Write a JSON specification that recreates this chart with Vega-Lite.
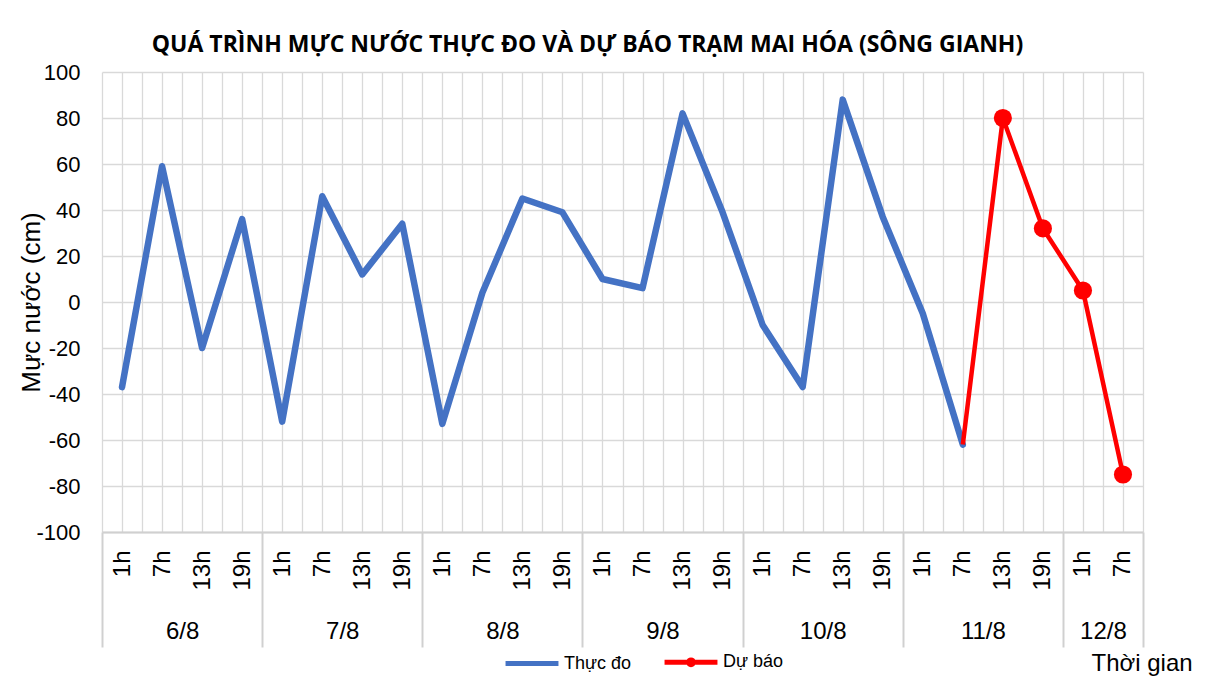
{
  "$schema": "https://vega.github.io/schema/vega-lite/v6.json",
  "width": 1041,
  "height": 460,
  "autosize": {"type": "none"},
  "padding": {"left": 102, "top": 72, "right": 71, "bottom": 152},
  "background": "white",
  "config": {
    "font": "Liberation Sans",
    "view": {"stroke": null},
    "axis": {"labelColor": "#000000", "titleColor": "#000000", "labelFont": "Liberation Sans", "titleFont": "Liberation Sans", "titleFontWeight": "normal"}
  },
  "title": {
    "text": "QUÁ TRÌNH MỰC NƯỚC THỰC ĐO VÀ DỰ BÁO TRẠM MAI HÓA (SÔNG GIANH)",
    "font": "Open Sans",
    "fontSize": 23,
    "fontWeight": "bold",
    "color": "#000000",
    "anchor": "middle",
    "frame": "group",
    "dx": -35,
    "dy": 33,
    "offset": 14,
    "baseline": "bottom"
  },
  "data": {
    "values": [
      {"i": 0.5, "day": "6/8", "hour": "1h", "value": -37, "series": "Thực đo"},
      {"i": 1.5, "day": "6/8", "hour": "7h", "value": 59, "series": "Thực đo"},
      {"i": 2.5, "day": "6/8", "hour": "13h", "value": -20, "series": "Thực đo"},
      {"i": 3.5, "day": "6/8", "hour": "19h", "value": 36, "series": "Thực đo"},
      {"i": 4.5, "day": "7/8", "hour": "1h", "value": -52, "series": "Thực đo"},
      {"i": 5.5, "day": "7/8", "hour": "7h", "value": 46, "series": "Thực đo"},
      {"i": 6.5, "day": "7/8", "hour": "13h", "value": 12, "series": "Thực đo"},
      {"i": 7.5, "day": "7/8", "hour": "19h", "value": 34, "series": "Thực đo"},
      {"i": 8.5, "day": "8/8", "hour": "1h", "value": -53, "series": "Thực đo"},
      {"i": 9.5, "day": "8/8", "hour": "7h", "value": 4, "series": "Thực đo"},
      {"i": 10.5, "day": "8/8", "hour": "13h", "value": 45, "series": "Thực đo"},
      {"i": 11.5, "day": "8/8", "hour": "19h", "value": 39, "series": "Thực đo"},
      {"i": 12.5, "day": "9/8", "hour": "1h", "value": 10, "series": "Thực đo"},
      {"i": 13.5, "day": "9/8", "hour": "7h", "value": 6, "series": "Thực đo"},
      {"i": 14.5, "day": "9/8", "hour": "13h", "value": 82, "series": "Thực đo"},
      {"i": 15.5, "day": "9/8", "hour": "19h", "value": 39, "series": "Thực đo"},
      {"i": 16.5, "day": "10/8", "hour": "1h", "value": -10, "series": "Thực đo"},
      {"i": 17.5, "day": "10/8", "hour": "7h", "value": -37, "series": "Thực đo"},
      {"i": 18.5, "day": "10/8", "hour": "13h", "value": 88, "series": "Thực đo"},
      {"i": 19.5, "day": "10/8", "hour": "19h", "value": 37, "series": "Thực đo"},
      {"i": 20.5, "day": "11/8", "hour": "1h", "value": -5, "series": "Thực đo"},
      {"i": 21.5, "day": "11/8", "hour": "7h", "value": -62, "series": "Thực đo"},
      {"i": 21.5, "day": "11/8", "hour": "7h", "value": -62, "series": "Dự báo"},
      {"i": 22.5, "day": "11/8", "hour": "13h", "value": 80, "series": "Dự báo"},
      {"i": 23.5, "day": "11/8", "hour": "19h", "value": 32, "series": "Dự báo"},
      {"i": 24.5, "day": "12/8", "hour": "1h", "value": 5, "series": "Dự báo"},
      {"i": 25.5, "day": "12/8", "hour": "7h", "value": -75, "series": "Dự báo"}
    ]
  },
  "encoding": {
    "y": {
      "field": "value",
      "type": "quantitative",
      "scale": {"domain": [-100, 100], "nice": false, "zero": false},
      "axis": {
        "values": [-100, -80, -60, -40, -20, 0, 20, 40, 60, 80, 100],
        "labelExpr": "replace(datum.label, '−', '-')",
        "grid": true,
        "gridColor": "#d9d9d9",
        "gridWidth": 1.3,
        "ticks": false,
        "tickSize": 0,
        "domain": false,
        "labelFontSize": 22,
        "labelPadding": 22,
        "title": "Mực nước (cm)",
        "titleFontSize": 26,
        "titleX": -71,
        "titleY": 230,
        "titleBaseline": "middle",
        "titleAlign": "center",
        "titleAngle": -90
      }
    },
    "color": {
      "field": "series",
      "type": "nominal",
      "scale": {"domain": ["Thực đo", "Dự báo"], "range": ["#4472C4", "#FF0000"]},
      "legend": {
        "title": null,
        "orient": "none",
        "direction": "horizontal",
        "legendX": 401,
        "legendY": 561,
        "symbolType": "stroke",
        "symbolStrokeWidth": 5,
        "symbolSize": 2800,
        "labelFontSize": 18,
        "labelColor": "#000000",
        "labelFont": "Liberation Sans",
        "columnPadding": 22,
        "labelOffset": 3,
        "symbolStrokeColor": {"expr": "null"},
        "encode": {
          "symbols": {
            "update": {
              "shape": {"signal": "datum.value == 'Dự báo' ? 'M-1,0L1,0M0.09,0A0.09,0.09 0 1,1 -0.09,0A0.09,0.09 0 1,1 0.09,0' : 'stroke'"}
            }
          }
        }
      }
    }
  },
  "layer": [
    {
      "transform": [{"filter": "datum.series == 'Thực đo'"}],
      "mark": {"type": "line", "strokeWidth": 6.5, "strokeJoin": "round", "strokeCap": "round"},
      "encoding": {
        "x": {
          "field": "i",
          "type": "quantitative",
          "scale": {"domain": [0, 26], "nice": false, "zero": false},
          "axis": {
            "orient": "bottom",
            "values": [0, 0.5, 1, 1.5, 2, 2.5, 3, 3.5, 4, 4.5, 5, 5.5, 6, 6.5, 7, 7.5, 8, 8.5, 9, 9.5, 10, 10.5, 11, 11.5, 12, 12.5, 13, 13.5, 14, 14.5, 15, 15.5, 16, 16.5, 17, 17.5, 18, 18.5, 19, 19.5, 20, 20.5, 21, 21.5, 22, 22.5, 23, 23.5, 24, 24.5, 25, 25.5, 26],
            "labelExpr": "floor(datum.value) == datum.value ? '' : ['1h', '7h', '13h', '19h'][floor(datum.value) % 4]",
            "grid": true,
            "gridColor": "#d9d9d9",
            "gridWidth": 1.3,
            "ticks": false,
            "tickSize": 0,
            "domain": true,
            "domainColor": "#d0d0d0",
            "domainWidth": 2,
            "labelAngle": -90,
            "labelAlign": "right",
            "labelBaseline": "middle",
            "labelPadding": 18,
            "labelFontSize": 24,
            "labelOverlap": false,
            "labelFlush": false,
            "labelBound": false,
            "title": null
          }
        }
      }
    },
    {
      "transform": [{"filter": "datum.series == 'Dự báo'"}],
      "mark": {"type": "line", "strokeWidth": 4.5},
      "encoding": {
        "x": {
          "field": "i",
          "type": "quantitative",
          "scale": {"domain": [0, 26], "nice": false, "zero": false},
          "axis": {
            "orient": "bottom",
            "values": [2, 6, 10, 14, 18, 22, 25],
            "labelExpr": "['6/8', '7/8', '8/8', '9/8', '10/8', '11/8', '12/8'][floor(datum.value / 4)]",
            "grid": false,
            "ticks": false,
            "tickSize": 0,
            "domain": false,
            "labelAngle": 0,
            "labelAlign": "center",
            "labelBaseline": "middle",
            "labelPadding": 99,
            "labelFontSize": 24,
            "labelOverlap": false,
            "labelFlush": false,
            "labelBound": false,
            "title": "Thời gian",
            "titleFontSize": 24,
            "titleAnchor": "end",
            "titleAlign": "left",
            "titleBaseline": "middle",
            "titleX": 989,
            "titleY": 131
          }
        }
      }
    },
    {
      "transform": [{"filter": "datum.series == 'Dự báo' && datum.i > 22"}],
      "mark": {"type": "point", "filled": true, "opacity": 1, "size": 330, "shape": "circle"},
      "encoding": {
        "x": {
          "field": "i",
          "type": "quantitative",
          "scale": {"domain": [0, 26], "nice": false, "zero": false},
          "axis": {
            "orient": "bottom",
            "values": [0, 4, 8, 12, 16, 20, 24, 26],
            "labels": false,
            "grid": false,
            "ticks": true,
            "tickSize": 115,
            "tickColor": "#d0d0d0",
            "tickWidth": 2,
            "domain": false,
            "title": null
          }
        }
      }
    }
  ],
  "resolve": {"scale": {"x": "independent"}, "axis": {"x": "independent"}}
}
